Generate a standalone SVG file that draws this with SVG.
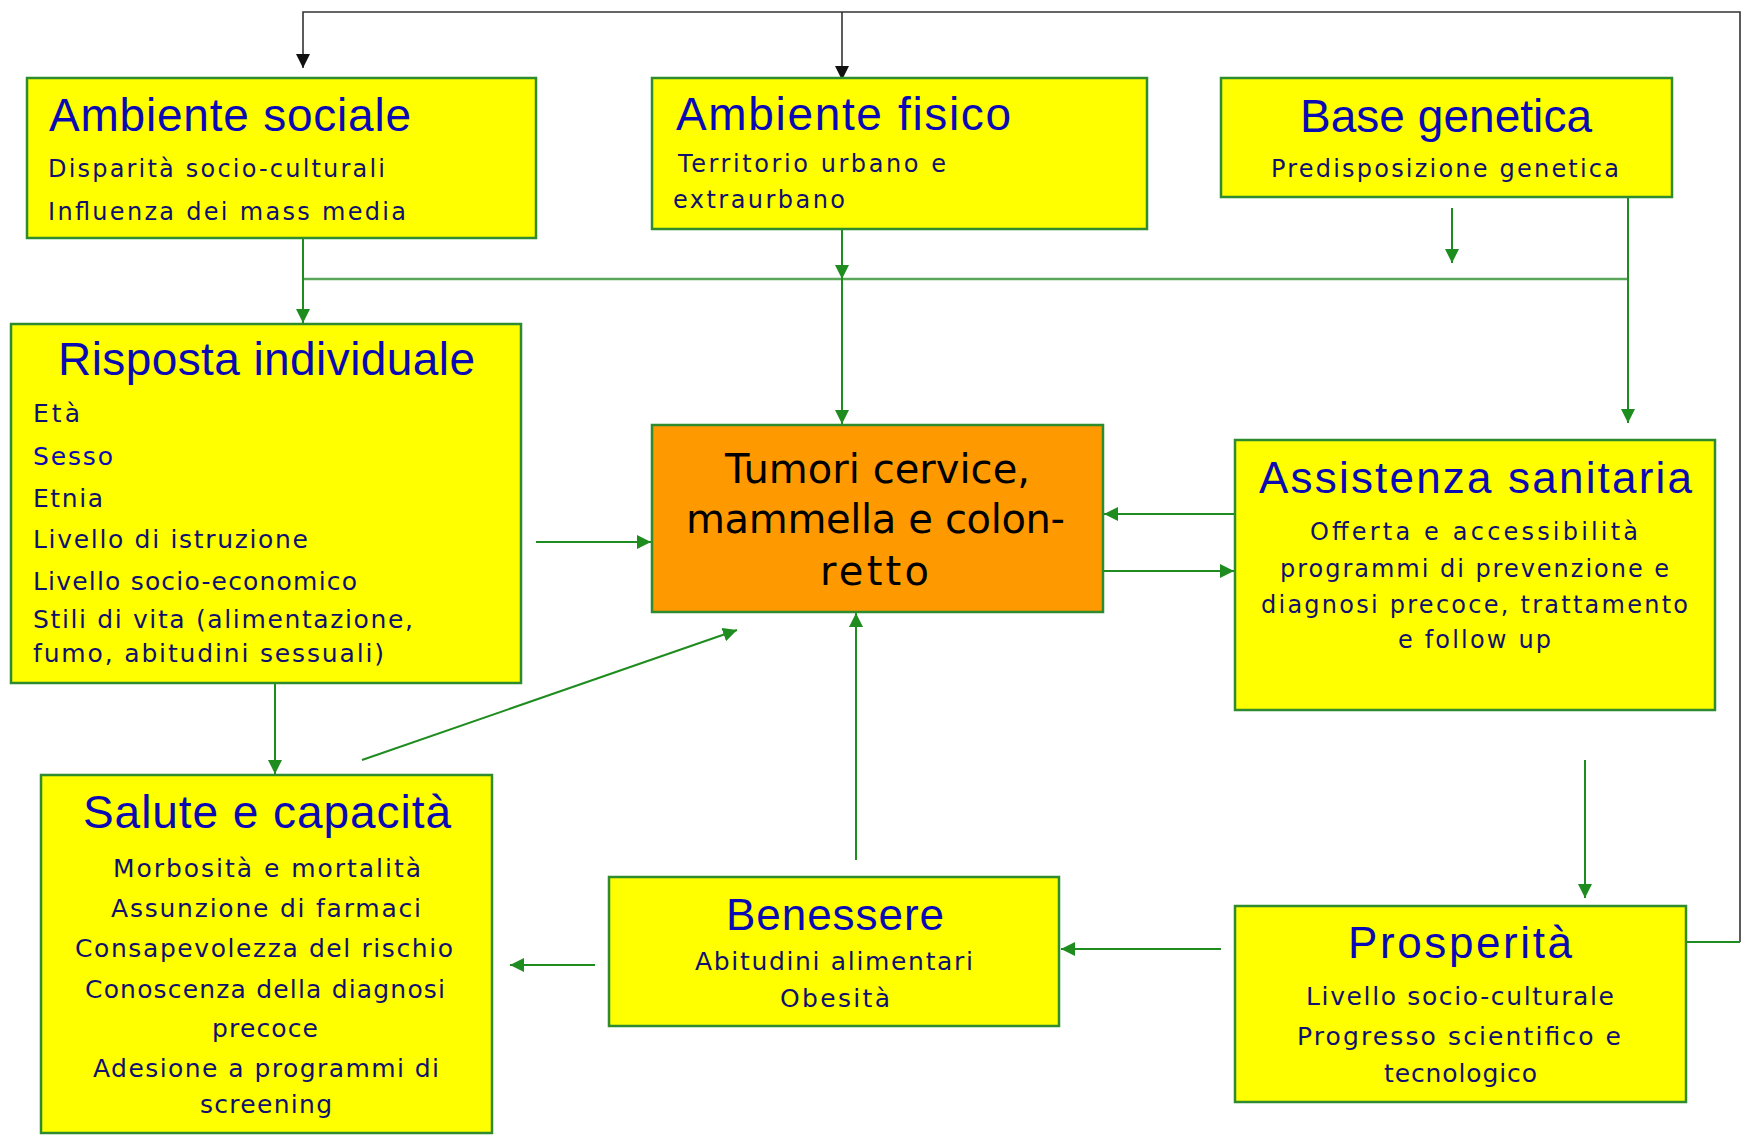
<svg xmlns="http://www.w3.org/2000/svg" width="1745" height="1135" viewBox="0 0 1745 1135">
<style>
.box{fill:#ffff00;stroke:#2e8b2e;stroke-width:2.5}
.core{fill:#ff9900;stroke:#2e8b2e;stroke-width:2.5}
text{font-family:"Liberation Sans",Arial,sans-serif}
.t{fill:#0a0ab4;font-size:46px}
.b{fill:#10106e;font-size:25px;font-family:"DejaVu Sans","Liberation Sans",sans-serif}
.s{font-size:24px}
.k{fill:#000;font-size:40px;font-family:"DejaVu Sans","Liberation Sans",sans-serif}
.g{fill:none;stroke:#1e8c1e;stroke-width:2}
.gl{fill:none;stroke:#5aa65a;stroke-width:2.5}
.bk{fill:none;stroke:#333;stroke-width:1.6}
</style>
<defs>
<marker id="ag" markerUnits="userSpaceOnUse" markerWidth="14" markerHeight="14" refX="14" refY="7" orient="auto"><path d="M0,0 L14,7 L0,14 z" fill="#1e8c1e"/></marker>
<marker id="ak" markerUnits="userSpaceOnUse" markerWidth="14" markerHeight="14" refX="14" refY="7" orient="auto"><path d="M0,0 L14,7 L0,14 z" fill="#111"/></marker>
</defs>
<rect width="1745" height="1135" fill="#fff"/>
<g id="connectors">
<path class="bk" d="M1740,942 V12 H303 V68" marker-end="url(#ak)"/>
<path class="bk" d="M842,12 V80" marker-end="url(#ak)"/>
<path class="g" d="M1686,942 H1740"/>
<path class="gl" d="M303,279 H1628"/>
<path class="g" d="M303,238 V323" marker-end="url(#ag)"/>
<path class="g" d="M842,222 V279" marker-end="url(#ag)"/>
<path class="g" d="M842,279 V424" marker-end="url(#ag)"/>
<path class="g" d="M1452,208 V263" marker-end="url(#ag)"/>
<path class="g" d="M1628,193 V423" marker-end="url(#ag)"/>
<path class="g" d="M536,542 H651" marker-end="url(#ag)"/>
<path class="g" d="M275,647 V774" marker-end="url(#ag)"/>
<path class="g" d="M362,760 L737,630" marker-end="url(#ag)"/>
<path class="g" d="M856,860 V613" marker-end="url(#ag)"/>
<path class="g" d="M1235,514 H1104" marker-end="url(#ag)"/>
<path class="g" d="M1103,571 H1234" marker-end="url(#ag)"/>
<path class="g" d="M1585,760 V898" marker-end="url(#ag)"/>
<path class="g" d="M1221,949 H1061" marker-end="url(#ag)"/>
<path class="g" d="M595,965 H510" marker-end="url(#ag)"/>
</g>
<g id="ambiente-sociale">
<rect class="box" x="27" y="78" width="509" height="160"/>
<text class="t" x="49" y="131" textLength="362">Ambiente sociale</text>
<text class="b s" x="48" y="177" textLength="337">Disparità socio-culturali</text>
<text class="b s" x="48" y="220" textLength="358">Influenza dei mass media</text>
</g>
<g id="ambiente-fisico">
<rect class="box" x="652" y="78" width="495" height="151"/>
<text class="t" x="676" y="130" textLength="335">Ambiente fisico</text>
<text class="b s" x="678" y="172" textLength="268">Territorio urbano e</text>
<text class="b s" x="673" y="208" textLength="172">extraurbano</text>
</g>
<g id="base-genetica">
<rect class="box" x="1221" y="78" width="451" height="119"/>
<text class="t" x="1300" y="132" textLength="292">Base genetica</text>
<text class="b s" x="1271" y="177" textLength="348">Predisposizione genetica</text>
</g>
<g id="risposta-individuale">
<rect class="box" x="11" y="324" width="510" height="359"/>
<text class="t" x="58" y="375" textLength="417">Risposta individuale</text>
<text class="b" x="33" y="422" textLength="47">Età</text>
<text class="b" x="33" y="465" textLength="80" style="fill:#0a0ab4">Sesso</text>
<text class="b" x="33" y="507" textLength="70">Etnia</text>
<text class="b" x="33" y="548" textLength="275">Livello di istruzione</text>
<text class="b" x="33" y="590" textLength="324">Livello socio-economico</text>
<text class="b" x="33" y="628" textLength="380">Stili di vita (alimentazione,</text>
<text class="b" x="33" y="662" textLength="351">fumo, abitudini sessuali)</text>
</g>
<g id="tumori">
<rect class="core" x="652" y="425" width="451" height="187"/>
<text class="k" x="725" y="483" textLength="305">Tumori cervice,</text>
<text class="k" x="686" y="533" textLength="379">mammella e colon-</text>
<text class="k" x="820" y="585" textLength="109">retto</text>
</g>
<g id="assistenza-sanitaria">
<rect class="box" x="1235" y="440" width="480" height="270"/>
<text class="t" x="1259" y="493" textLength="433" style="font-size:44px">Assistenza sanitaria</text>
<text class="b s" x="1310" y="540" textLength="328">Offerta e accessibilità</text>
<text class="b s" x="1280" y="577" textLength="389">programmi di prevenzione e</text>
<text class="b s" x="1261" y="613" textLength="427">diagnosi precoce, trattamento</text>
<text class="b s" x="1398" y="648" textLength="153">e follow up</text>
</g>
<g id="salute-capacita">
<rect class="box" x="41" y="775" width="451" height="358"/>
<text class="t" x="83" y="828" textLength="368">Salute e capacità</text>
<text class="b" x="113" y="877" textLength="308">Morbosità e mortalità</text>
<text class="b" x="111" y="917" textLength="310">Assunzione di farmaci</text>
<text class="b" x="75" y="957" textLength="378">Consapevolezza del rischio</text>
<text class="b" x="85" y="998" textLength="360">Conoscenza della diagnosi</text>
<text class="b" x="212" y="1037" textLength="106">precoce</text>
<text class="b" x="93" y="1077" textLength="346">Adesione a programmi di</text>
<text class="b" x="200" y="1113" textLength="132">screening</text>
</g>
<g id="benessere">
<rect class="box" x="609" y="877" width="450" height="149"/>
<text class="t" x="726" y="930" textLength="218" style="font-size:44px">Benessere</text>
<text class="b" x="695" y="970" textLength="278">Abitudini alimentari</text>
<text class="b" x="780" y="1007" textLength="110">Obesità</text>
</g>
<g id="prosperita">
<rect class="box" x="1235" y="906" width="451" height="196"/>
<text class="t" x="1348" y="958" textLength="224" style="font-size:44px">Prosperità</text>
<text class="b" x="1306" y="1005" textLength="308">Livello socio-culturale</text>
<text class="b" x="1297" y="1045" textLength="324">Progresso scientifico e</text>
<text class="b" x="1384" y="1082" textLength="153">tecnologico</text>
</g>
</svg>
